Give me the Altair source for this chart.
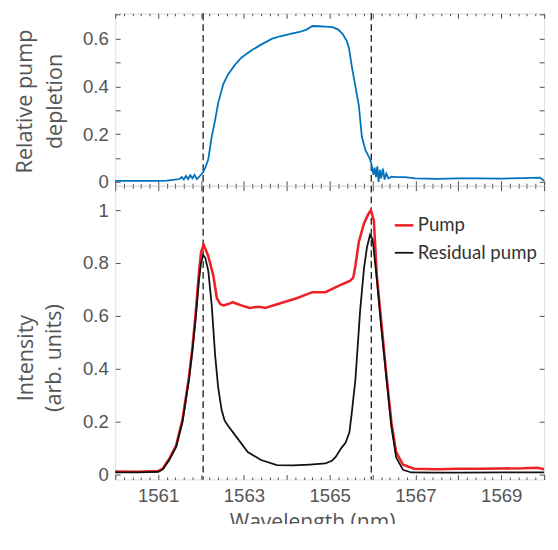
import altair as alt
import pandas as pd

# ---------------- data ----------------
dep_wl = [1560.0, 1560.5, 1561.0, 1561.2, 1561.35, 1561.5, 1561.55, 1561.6, 1561.65, 1561.7,
          1561.75, 1561.8, 1561.85, 1561.9, 1561.95, 1562.0, 1562.05, 1562.1, 1562.17, 1562.25,
          1562.33, 1562.4, 1562.52, 1562.63, 1562.79, 1562.94, 1563.17, 1563.4, 1563.66, 1563.85,
          1564.08, 1564.3, 1564.46, 1564.6, 1564.75, 1564.9, 1565.07, 1565.2, 1565.3, 1565.4,
          1565.45, 1565.52, 1565.6, 1565.68, 1565.75, 1565.83, 1565.94, 1565.98, 1566.02, 1566.05,
          1566.08, 1566.11, 1566.14, 1566.17, 1566.2, 1566.24, 1566.28, 1566.32, 1566.37, 1566.45,
          1566.55, 1566.75, 1567.0, 1567.5, 1568.0, 1568.5, 1569.0, 1569.5, 1569.9, 1570.0]
dep_val = [0.004, 0.004, 0.004, 0.005, 0.008, 0.012, 0.02, 0.01, 0.025, 0.012,
           0.028, 0.015, 0.03, 0.012, 0.02, 0.03, 0.04, 0.06, 0.095, 0.19,
           0.26, 0.33, 0.41, 0.45, 0.49, 0.52, 0.55, 0.575, 0.60, 0.61,
           0.62, 0.628, 0.638, 0.653, 0.652, 0.65, 0.648, 0.638, 0.62, 0.59,
           0.56, 0.48, 0.40, 0.32, 0.19, 0.135, 0.095, 0.07, 0.03, 0.06,
           0.02, 0.065, 0.0, 0.05, 0.015, 0.055, 0.01, 0.035, 0.015, 0.022,
           0.02, 0.02, 0.015, 0.013, 0.015, 0.015, 0.014, 0.016, 0.018, 0.005]

pump_wl = [1560.0, 1560.5, 1561.0, 1561.11, 1561.26, 1561.42, 1561.57, 1561.72, 1561.8, 1561.87,
           1561.95, 1562.0, 1562.06, 1562.17, 1562.29, 1562.37, 1562.45, 1562.52, 1562.64, 1562.74,
           1562.85, 1562.94, 1563.13, 1563.3, 1563.4, 1563.5, 1563.85, 1564.23, 1564.6, 1564.9,
           1565.22, 1565.48, 1565.55, 1565.6, 1565.68, 1565.8, 1565.9, 1565.96, 1566.03, 1566.1,
           1566.21, 1566.32, 1566.44, 1566.55, 1566.71, 1566.97, 1567.5, 1568.0, 1568.5, 1569.0,
           1569.5, 1569.85, 1570.0]
pump_val = [0.012, 0.011, 0.013, 0.023, 0.06, 0.11, 0.21, 0.37, 0.48, 0.60,
            0.76, 0.84, 0.87, 0.826, 0.75, 0.667, 0.645, 0.64, 0.645, 0.652,
            0.645, 0.64, 0.63, 0.634, 0.634, 0.63, 0.648, 0.667, 0.69, 0.69,
            0.715, 0.733, 0.745, 0.79, 0.88, 0.95, 0.985, 1.0, 0.96, 0.75,
            0.567, 0.38, 0.196, 0.085, 0.037, 0.022, 0.02, 0.022, 0.022, 0.023,
            0.024, 0.026, 0.02]

res_wl = [1560.0, 1560.5, 1561.0, 1561.11, 1561.26, 1561.42, 1561.57, 1561.72, 1561.8, 1561.87,
          1561.95, 1562.0, 1562.05, 1562.1, 1562.17, 1562.25, 1562.33, 1562.4, 1562.48, 1562.55,
          1562.63, 1562.86, 1563.09, 1563.4, 1563.77, 1564.15, 1564.54, 1564.9, 1565.05, 1565.14,
          1565.27, 1565.37, 1565.46, 1565.52, 1565.6, 1565.66, 1565.71, 1565.8, 1565.87, 1565.94,
          1566.0, 1566.1, 1566.2, 1566.32, 1566.44, 1566.55, 1566.71, 1566.9, 1567.5, 1568.0,
          1569.0, 1570.0]
res_val = [0.008, 0.008, 0.01, 0.02, 0.055, 0.105, 0.2, 0.36, 0.47, 0.58,
           0.73, 0.80, 0.83, 0.82, 0.77, 0.64, 0.45, 0.33, 0.245, 0.205,
           0.185, 0.135, 0.085, 0.055, 0.036, 0.035, 0.038, 0.042, 0.052, 0.067,
           0.1, 0.12, 0.16, 0.24, 0.36, 0.5, 0.62, 0.78, 0.86, 0.907,
           0.89, 0.74, 0.56, 0.37, 0.18, 0.065, 0.018, 0.008, 0.007, 0.007,
           0.008, 0.008]

series_names = ["Pump", "Residual pump"]
marker_wl = [1562.05, 1565.97]

x_label_values = [1561, 1563, 1565, 1567, 1569]
x_major_ticks = [1560, 1561, 1562, 1563, 1564, 1565, 1566, 1567, 1568, 1569, 1570]
x_minor_ticks = [round(1560 + 0.2 * i, 1) for i in range(51) if i % 5 != 0]
top_y_labels = [0, 0.2, 0.4, 0.6]
top_y_ticks = [0, 0.1, 0.2, 0.3, 0.4, 0.5, 0.6, 0.7]
bot_y_labels = [0, 0.2, 0.4, 0.6, 0.8, 1]
bot_y_ticks = [0, 0.2, 0.4, 0.6, 0.8, 1]

X_DOM = [1560, 1570]
TOP_DOM = [-0.016, 0.706]
BOT_DOM = [-0.0185, 1.0926]
W, H_TOP, H_BOT = 438, 176, 300
MAJ, MIN = 5, 2.5

AX = "#4d4d4d"
TXT = "#555555"
LABEL_FONT = "Liberation Sans"
TITLE_FONT = "Open Sans"
LEGEND_FONT = "Lato"

dep_df = pd.DataFrame({"wl": dep_wl, "v": dep_val})
pump_df = pd.DataFrame({"wl": pump_wl, "v": pump_val, "s": series_names[0]})
res_df = pd.DataFrame({"wl": res_wl, "v": res_val, "s": series_names[1]})
mark_df = pd.DataFrame({"wl": marker_wl})


def xs():
    return alt.Scale(domain=X_DOM, nice=False, zero=False)


def ys(dom):
    return alt.Scale(domain=dom, nice=False, zero=False)


def edge_ticks(orient, vals, tick, span):
    # grid lines dashed so that only a short piece shows at each edge of the frame (inward ticks)
    return alt.Axis(orient=orient, values=vals, grid=True, gridDash=[tick, span - 2 * tick, tick, 0],
                    gridColor=AX, gridWidth=1, gridOpacity=1, ticks=False, labels=False,
                    domain=False, title=None)


def tick_layers(df, dom, yvals, h):
    base = alt.Chart(df).mark_line(opacity=0)
    return [
        base.encode(x=alt.X("wl:Q", scale=xs(), axis=edge_ticks("bottom", x_major_ticks, MAJ, h)),
                    y=alt.Y("v:Q", scale=ys(dom), axis=edge_ticks("left", yvals, MAJ, W))),
        base.encode(x=alt.X("wl:Q", scale=xs(), axis=edge_ticks("bottom", x_minor_ticks, MIN, h)),
                    y=alt.Y("v:Q", scale=ys(dom), axis=None)),
    ]


def y_main_axis(values, title, line_h, title_x, title_y):
    return alt.Axis(orient="left", values=values, format="~g", ticks=False, domain=False, grid=False,
                    labelFont=LABEL_FONT, labelFontSize=19, labelColor=TXT, labelPadding=7,
                    title=title, titleFont=TITLE_FONT, titleFontSize=22, titleFontWeight="normal",
                    titleColor=TXT, titleLineHeight=line_h, titleX=title_x, titleY=title_y,
                    titleBaseline="bottom", titleAlign="center")


def rules():
    return alt.Chart(mark_df).mark_rule(strokeDash=[7, 4], color="#1a1a1a", strokeWidth=1.3).encode(
        x=alt.X("wl:Q", scale=xs(), axis=None))


# ---------------- top panel ----------------
blue = alt.Chart(dep_df).mark_line(color="#0072BD", strokeWidth=1.8).encode(
    x=alt.X("wl:Q", scale=xs(), axis=None),
    y=alt.Y("v:Q", scale=ys(TOP_DOM),
            axis=y_main_axis(top_y_labels, ["Relative pump", "depletion"], 31, -81, 89.5)),
)
top = alt.layer(*tick_layers(dep_df, TOP_DOM, top_y_ticks, H_TOP), rules(), blue).resolve_axis(
    x="independent", y="independent").properties(width=W, height=H_TOP)

# ---------------- bottom panel ----------------
color_scale = alt.Scale(domain=series_names, range=["#EC2227", "#111111"])
width_scale = alt.Scale(domain=series_names, range=[2.6, 1.8])
legend = alt.Legend(orient="none", legendX=284, legendY=29.5, title=None, symbolType="stroke",
                    symbolSize=361, labelFont=LEGEND_FONT, labelFontSize=19, labelColor="#333333",
                    rowPadding=7.5, labelOffset=3, padding=0, labelLimit=130)

red = alt.Chart(pump_df).mark_line().encode(
    x=alt.X("wl:Q", scale=xs(),
            axis=alt.Axis(orient="bottom", values=x_label_values, format="d", ticks=False,
                          domain=False, grid=False, labelFont=LABEL_FONT, labelFontSize=19,
                          labelColor=TXT, labelPadding=7, title="Wavelength (nm)",
                          titleFont=TITLE_FONT, titleFontSize=21.5, titleFontWeight="normal",
                          titleColor=TXT, titleX=201, titleY=50, titleBaseline="alphabetic",
                          titleAlign="center")),
    y=alt.Y("v:Q", scale=ys(BOT_DOM),
            axis=y_main_axis(bot_y_labels, ["Intensity", "(arb. units)"], 28, -79, 175.5)),
    color=alt.Color("s:N", scale=color_scale, legend=legend),
    strokeWidth=alt.StrokeWidth("s:N", scale=width_scale, legend=legend),
)
black = alt.Chart(res_df).mark_line().encode(
    x=alt.X("wl:Q", scale=xs(), axis=None),
    y=alt.Y("v:Q", scale=ys(BOT_DOM), axis=None),
    color=alt.Color("s:N", scale=color_scale, legend=legend),
    strokeWidth=alt.StrokeWidth("s:N", scale=width_scale, legend=legend),
)
bottom = alt.layer(*tick_layers(res_df, BOT_DOM, bot_y_ticks, H_BOT), rules(), red, black).resolve_axis(
    x="independent", y="independent").properties(width=W, height=H_BOT)

chart = alt.vconcat(top, bottom, spacing=0, bounds="flush").resolve_scale(
    color="independent", strokeWidth="independent"
).properties(
    padding={"top": -2, "left": 4.5, "right": 0, "bottom": -15}
).configure_view(stroke=AX, strokeWidth=1).configure(font=TITLE_FONT)

chart.save("out.html", embed_options={"renderer": "svg", "actions": False})
